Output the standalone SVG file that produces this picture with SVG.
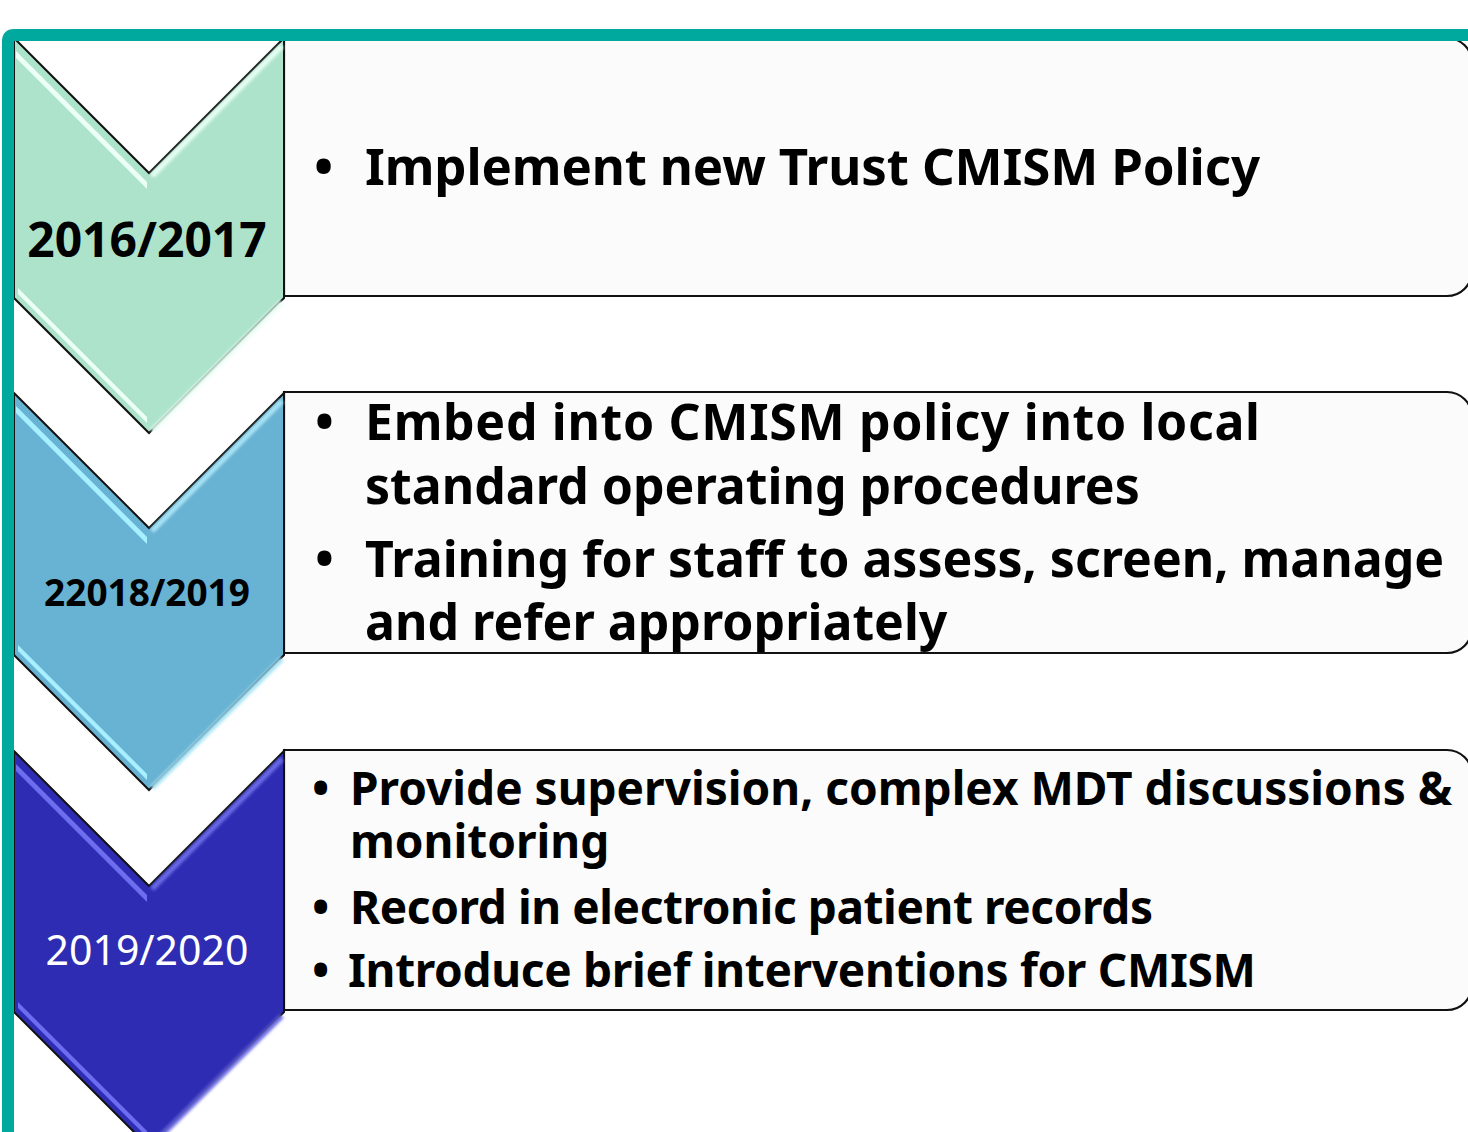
<svg xmlns="http://www.w3.org/2000/svg" width="1468" height="1132" viewBox="0 0 1468 1132">
  <defs>
    <style>
      .panel { fill: #fbfbfb; stroke: #111; stroke-width: 2.2; }
      .chev { stroke: #111; stroke-width: 2; stroke-linejoin: miter; }
      .txt { font-family: "Noto Sans", "Open Sans", "Liberation Sans", sans-serif; font-weight: 700; fill: #000; }
      .yr { font-family: "Noto Sans", "Open Sans", "Liberation Sans", sans-serif; text-anchor: middle; }
      .glow { fill: none; stroke-width: 5; filter: url(#soft); }
    </style>
    <filter id="soft" x="-10%" y="-10%" width="120%" height="120%">
      <feGaussianBlur stdDeviation="1.6"/>
    </filter>
    <filter id="crisp" x="-10%" y="-10%" width="120%" height="120%">
      <feGaussianBlur stdDeviation="0.7"/>
    </filter>
  </defs>

  <rect width="1468" height="1132" fill="#ffffff"/>

  <!-- text panels: square on the left, rounded on the right -->
  <g id="panel-2016">
    <path class="panel" d="M284,38 H1447 A25,25 0 0 1 1472,63 V271 A25,25 0 0 1 1447,296 H284 Z"/>
    <text class="txt" font-size="51" x="314" y="185">•</text>
    <text class="txt" font-size="51" x="365" y="185" textLength="895" lengthAdjust="spacing">Implement new Trust CMISM Policy</text>
  </g>
  <g id="panel-2018">
    <path class="panel" d="M284,392 H1447 A25,25 0 0 1 1472,417 V628 A25,25 0 0 1 1447,653 H284 Z"/>
    <text class="txt" font-size="50" x="315" y="440">•</text>
    <text class="txt" font-size="50" x="365" y="440" textLength="895" lengthAdjust="spacing">Embed into CMISM policy into local</text>
    <text class="txt" font-size="50" x="365" y="504">standard operating procedures</text>
    <text class="txt" font-size="50" x="315" y="577">•</text>
    <text class="txt" font-size="50" x="365" y="577">Training for staff to assess, screen, manage</text>
    <text class="txt" font-size="50" x="365" y="640">and refer appropriately</text>
  </g>
  <g id="panel-2019">
    <path class="panel" d="M284,750 H1447 A25,25 0 0 1 1472,775 V985 A25,25 0 0 1 1447,1010 H284 Z"/>
    <text class="txt" font-size="46" x="312" y="805">•</text>
    <text class="txt" font-size="46" x="350" y="805">Provide supervision, complex MDT discussions &amp;</text>
    <text class="txt" font-size="46" x="350" y="858">monitoring</text>
    <text class="txt" font-size="46" x="312" y="924">•</text>
    <text class="txt" font-size="46" x="350" y="924" textLength="803" lengthAdjust="spacing">Record in electronic patient records</text>
    <text class="txt" font-size="46" x="312" y="987">•</text>
    <text class="txt" font-size="46" x="348" y="987" textLength="908" lengthAdjust="spacing">Introduce brief interventions for CMISM</text>
  </g>

  <!-- year chevrons -->
  <g id="step-2016">
    <path class="chev" fill="#ade3cb" d="M14,38 L149,173 L284,38 V298 L149,433 L14,298 Z"/>
    <path class="glow" stroke="#e9fff6" d="M152,176 L282,46 M282,302 L152,431"/>
    <polygon fill="#ecfff6" filter="url(#crisp)" points="16,51 147,182 147,189 16,58"/>
    <polygon fill="#ecfff6" filter="url(#crisp)" points="18,288 147,417 147,423 18,294"/>
    <text class="yr" x="147" y="257" font-size="48" font-weight="700" fill="#000">2016/2017</text>
  </g>
  <g id="step-2018">
    <path class="chev" fill="#68b2d3" d="M14,393 L149,528 L284,393 V655 L149,790 L14,655 Z"/>
    <path class="glow" stroke="#a9e4f7" d="M152,531 L282,401 M282,659 L152,788"/>
    <polygon fill="#a8f0ff" filter="url(#crisp)" points="16,406 147,537 147,544 16,413"/>
    <polygon fill="#a8f0ff" filter="url(#crisp)" points="18,645 147,774 147,780 18,651"/>
    <text class="yr" x="147" y="606" font-size="37" font-weight="700" fill="#000">22018/2019</text>
  </g>
  <g id="step-2019">
    <path class="chev" fill="#2e2cb3" d="M14,751 L149,886 L284,751 V1012 L149,1147 L14,1012 Z"/>
    <path class="glow" stroke="#6c6ce6" d="M152,889 L282,759 M282,1016 L152,1145"/>
    <polygon fill="#6d6df0" filter="url(#crisp)" points="16,764 147,895 147,902 16,771"/>
    <polygon fill="#6d6df0" filter="url(#crisp)" points="18,1002 147,1131 147,1137 18,1008"/>
    <text class="yr" x="147" y="965" font-size="41" font-weight="400" fill="#ffffff">2019/2020</text>
  </g>

  <g id="connectors"/>

  <!-- teal frame along the top and left -->
  <path id="frame" d="M8,1140 V41 Q8,35 14,35 H1480" fill="none" stroke="#00a99d" stroke-width="12"/>
</svg>
